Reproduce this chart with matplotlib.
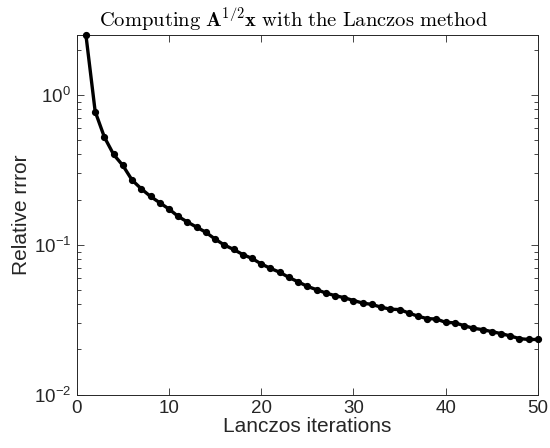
import matplotlib
matplotlib.use('Agg')
import matplotlib.pyplot as plt
from matplotlib.ticker import FixedLocator, LogLocator, NullFormatter

# данные
iterations = list(range(1, 51))
rel_error = [2.5, 0.774, 0.522, 0.40, 0.338, 0.270, 0.236, 0.210, 0.1905, 0.173,
             0.1545, 0.1417, 0.131, 0.121, 0.109, 0.0995, 0.093, 0.086, 0.081, 0.0744,
             0.0695, 0.0655, 0.0605, 0.0565, 0.0527, 0.0501, 0.0476, 0.0457, 0.0443, 0.0424,
             0.0408, 0.0399, 0.0383, 0.0371, 0.0369, 0.035, 0.0333, 0.0321, 0.0319, 0.0303,
             0.0301, 0.0288, 0.0277, 0.0271, 0.0263, 0.0255, 0.0246, 0.0236, 0.0233, 0.0233]
x_ticks = [0, 10, 20, 30, 40, 50]
y_ticks = [1e-2, 1e-1, 1e0]
y_tick_labels = ['$10^{-2}$', '$10^{-1}$', '$10^{0}$']

plt.rcParams['font.family'] = 'Liberation Sans'
plt.rcParams['mathtext.fontset'] = 'custom'
plt.rcParams['mathtext.rm'] = 'Liberation Sans'
plt.rcParams['mathtext.it'] = 'Liberation Sans'
plt.rcParams['mathtext.bf'] = 'Liberation Sans:bold'

axcol = '#262626'

fig = plt.figure(figsize=(5.5, 4.48), dpi=100)
ax = fig.add_axes([0.1395, 0.1194, 0.8385, 0.8025])

ax.semilogy(iterations, rel_error, '-', color='black', lw=2.4,
            marker='o', markersize=4.2, clip_on=False, zorder=3)

ax.set_xlim(0, 50)
ax.set_ylim(1e-2, 2.51)
ax.xaxis.set_major_locator(FixedLocator(x_ticks))
ax.yaxis.set_major_locator(FixedLocator(y_ticks))
ax.set_yticklabels(y_tick_labels)
ax.yaxis.set_minor_locator(LogLocator(base=10, subs=range(2, 10), numticks=20))
ax.yaxis.set_minor_formatter(NullFormatter())

ax.tick_params(which='both', direction='in', top=True, right=True,
               colors=axcol, labelcolor='#262626', labelsize=13.5, width=0.6, pad=4)
ax.tick_params(which='major', length=5)
ax.tick_params(which='minor', length=3)
for s in ax.spines.values():
    s.set_color(axcol)
    s.set_linewidth(0.7)

ax.set_xlabel('Lanczos iterations', fontsize=15, color='#262626', labelpad=0)
ax.set_ylabel('Relative rrror', fontsize=15, color='#262626', labelpad=2)

# заголовок в стиле LaTeX
title = ax.set_title(r'$\mathrm{Computing}\ \mathbf{A}^{\mathbf{1/2}}\mathbf{x}\ \mathrm{with\ the\ Lanczos\ method}$',
                     fontsize=14.8, pad=6, x=0.47)
title.set_math_fontfamily('cm')

fig.savefig('out.png', dpi=100)
